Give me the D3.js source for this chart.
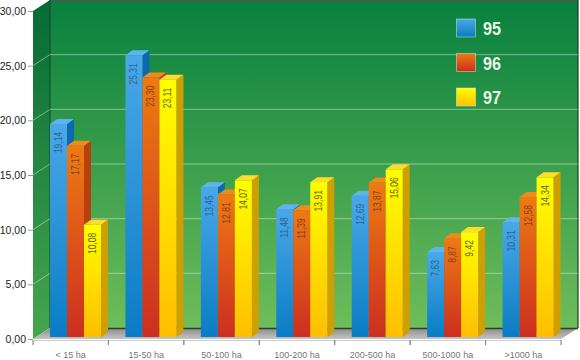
<!DOCTYPE html>
<html>
<head>
<meta charset="utf-8">
<script src="https://cdn.jsdelivr.net/npm/d3@7"></script>
<style>
  html, body { margin: 0; padding: 0; background: #fff; overflow: hidden; }
  svg { display: block; font-family: "Liberation Sans", Arial, sans-serif; }
</style>
</head>
<body>
<div id="chart"></div>
<script>
const categories = ["< 15 ha", "15-50 ha", "50-100 ha", "100-200 ha", "200-500 ha", "500-1000 ha", ">1000 ha"];
const seriesNames = ["95", "96", "97"];
const values95 = [19.14, 25.31, 13.45, 11.48, 12.69, 7.63, 10.31];
const values96 = [17.17, 23.30, 12.81, 11.39, 13.87, 8.87, 12.58];
const values97 = [10.08, 23.11, 14.07, 13.91, 15.06, 9.42, 14.34];
const yTicks = [0, 5, 10, 15, 20, 25, 30];

const seriesValues = [values95, values96, values97];
const palette = [
  { top: "#5db5ee", side: "#0b6aae", g0: "#4aa8e8", g1: "#0a7cc4", label: "#2a6496" },
  { top: "#f08a1c", side: "#b8400f", g0: "#ee7a12", g1: "#cc2e20", label: "#84431a" },
  { top: "#ffdc2a", side: "#cf9f00", g0: "#ffff00", g1: "#ffbe00", label: "#66660a" }
];

const width = 580, height = 360;
const depthX = 17, depthY = 11;      // depth of the chart box
const barDepthX = 7, barDepthY = 5;  // depth of a single bar

const svg = d3.select("#chart").append("svg")
  .attr("width", width)
  .attr("height", height);

const defs = svg.append("defs");
function addGradient(id, c0, c1) {
  const g = defs.append("linearGradient")
    .attr("id", id)
    .attr("x1", "0%").attr("y1", "0%")
    .attr("x2", "0%").attr("y2", "100%");
  g.append("stop").attr("offset", "0%").attr("stop-color", c0);
  g.append("stop").attr("offset", "100%").attr("stop-color", c1);
}
addGradient("wall-back", "#07803f", "#6fbd5a");
addGradient("wall-side", "#056a35", "#46a64e");
addGradient("floor", "#8c8c8c", "#c4c4c4");
palette.forEach((p, i) => addGradient("bar-" + i, p.g0, p.g1));

const x = d3.scaleBand().domain(categories).range([33, 561]);
const xBar = d3.scaleBand().domain(seriesNames).range([0, 51]);
const y = d3.scaleLinear().domain([0, 30]).range([339, 11]);
const yBar = d3.scaleLinear().domain([0, 30]).range([337, 3]);

// Chart box
const x0 = x.range()[0], x1 = x.range()[1], yBottom = y(0), yTop = y(30);
const poly = pts => pts.map(p => p.join(",")).join(" ");

svg.append("polygon")
  .attr("points", poly([[x0 + depthX, yTop - depthY], [x1 + depthX, yTop - depthY], [x1 + depthX, yBottom - depthY], [x0 + depthX, yBottom - depthY]]))
  .attr("fill", "url(#wall-back)");
svg.append("polygon")
  .attr("points", poly([[x0, yTop], [x0 + depthX, yTop - depthY], [x0 + depthX, yBottom - depthY], [x0, yBottom]]))
  .attr("fill", "url(#wall-side)");
svg.append("polygon")
  .attr("points", poly([[x0, yBottom], [x0 + depthX, yBottom - depthY], [x1 + depthX, yBottom - depthY], [x1, yBottom]]))
  .attr("fill", "url(#floor)");

// Box edges
svg.append("line")
  .attr("x1", x0 + depthX).attr("x2", x1 + depthX)
  .attr("y1", yTop - depthY + 0.5).attr("y2", yTop - depthY + 0.5)
  .attr("stroke", "#555").attr("stroke-width", 1.5);
svg.append("line")
  .attr("x1", x1 + depthX).attr("x2", x1 + depthX)
  .attr("y1", yTop - depthY).attr("y2", yBottom - depthY)
  .attr("stroke", "#1c3a22").attr("stroke-width", 1.2);
svg.append("line")
  .attr("x1", x0 + depthX).attr("x2", x0 + depthX)
  .attr("y1", yTop - depthY).attr("y2", yBottom - depthY)
  .attr("stroke", "#0b4a25").attr("stroke-width", 1);
svg.append("line")
  .attr("x1", x0 + depthX).attr("x2", x1 + depthX)
  .attr("y1", yBottom - depthY + 0.5).attr("y2", yBottom - depthY + 0.5)
  .attr("stroke", "#2e3e2e").attr("stroke-width", 1.5);

// Gridlines on walls
const grid = svg.append("g")
  .attr("fill", "none")
  .attr("stroke", "#fff")
  .attr("stroke-opacity", 0.42);
yTicks.filter(t => t > 0 && t < 30).forEach(t => {
  grid.append("polyline")
    .attr("points", poly([[x0, y(t)], [x0 + depthX, y(t) - depthY], [x1 + depthX, y(t) - depthY]]));
});

// Bars
categories.forEach((cat, i) => {
  const g = svg.append("g").attr("transform", `translate(${x(cat) + depthX},0)`);
  seriesNames.forEach((name, s) => {
    const v = seriesValues[s][i];
    const left = xBar(name), w = xBar.bandwidth();
    const top = yBar(v), base = yBar(0);
    const p = palette[s];
    g.append("polygon")
      .attr("points", poly([[left + w, top], [left + w + barDepthX, top - barDepthY], [left + w + barDepthX, base - barDepthY], [left + w, base]]))
      .attr("fill", p.side);
    g.append("polygon")
      .attr("points", poly([[left, top], [left + barDepthX, top - barDepthY], [left + w + barDepthX, top - barDepthY], [left + w, top]]))
      .attr("fill", p.top);
    g.append("rect")
      .attr("x", left).attr("y", top)
      .attr("width", w).attr("height", base - top)
      .attr("fill", `url(#bar-${s})`);
    // value labels are tall and narrow in the original
    g.append("text")
      .attr("transform", `translate(${left + w / 2 + 3.5},${top + 8}) rotate(-90) scale(0.85,1.08)`)
      .attr("text-anchor", "end")
      .attr("font-size", 10)
      .attr("fill", p.label)
      .text(d3.format(".2f")(v).replace(".", ","));
  });
});

// Y axis
const yAxis = svg.append("g")
  .attr("transform", `translate(${x0},0)`)
  .call(d3.axisLeft(y)
    .tickValues(yTicks)
    .tickSize(5)
    .tickPadding(2)
    .tickFormat(d => d3.format(".2f")(d).replace(".", ",")));
yAxis.select(".domain").remove();
yAxis.selectAll("line").attr("stroke", "#999");
yAxis.selectAll("text")
  .attr("font-family", "'Liberation Sans', Arial, sans-serif")
  .attr("font-size", 10.5)
  .attr("fill", "#222");

// X axis
const xAxis = svg.append("g")
  .attr("transform", `translate(0,${yBottom + 1})`)
  .call(d3.axisBottom(x).tickSize(5).tickPadding(7));
xAxis.select(".domain").attr("stroke", "#ccc");
xAxis.selectAll(".tick line")
  .attr("x1", x.bandwidth() / 2).attr("x2", x.bandwidth() / 2)
  .attr("stroke", "#888");
xAxis.selectAll(".tick")
  .append("line")
  .attr("x1", -x.bandwidth() / 2).attr("x2", -x.bandwidth() / 2)
  .attr("y1", 0).attr("y2", 5)
  .attr("stroke", "#888");
xAxis.selectAll("text")
  .attr("font-family", "'Liberation Sans', Arial, sans-serif")
  .attr("font-size", 9)
  .attr("fill", "#777");

// Legend
const legendY = d3.scalePoint().domain(seriesNames).range([28, 97]);
const legend = svg.append("g");
seriesNames.forEach((name, s) => {
  legend.append("rect")
    .attr("x", 456.5).attr("y", legendY(name) - 9)
    .attr("width", 19).attr("height", 18)
    .attr("fill", `url(#bar-${s})`)
    .attr("stroke", "#fff")
    .attr("stroke-opacity", 0.4);
  legend.append("text")
    .attr("x", 483).attr("y", legendY(name) + 7)
    .attr("font-size", 19)
    .attr("font-weight", "bold")
    .attr("textLength", 18)
    .attr("lengthAdjust", "spacingAndGlyphs")
    .attr("fill", "#e8f6e4")
    .text(name);
});
</script>
</body>
</html>
